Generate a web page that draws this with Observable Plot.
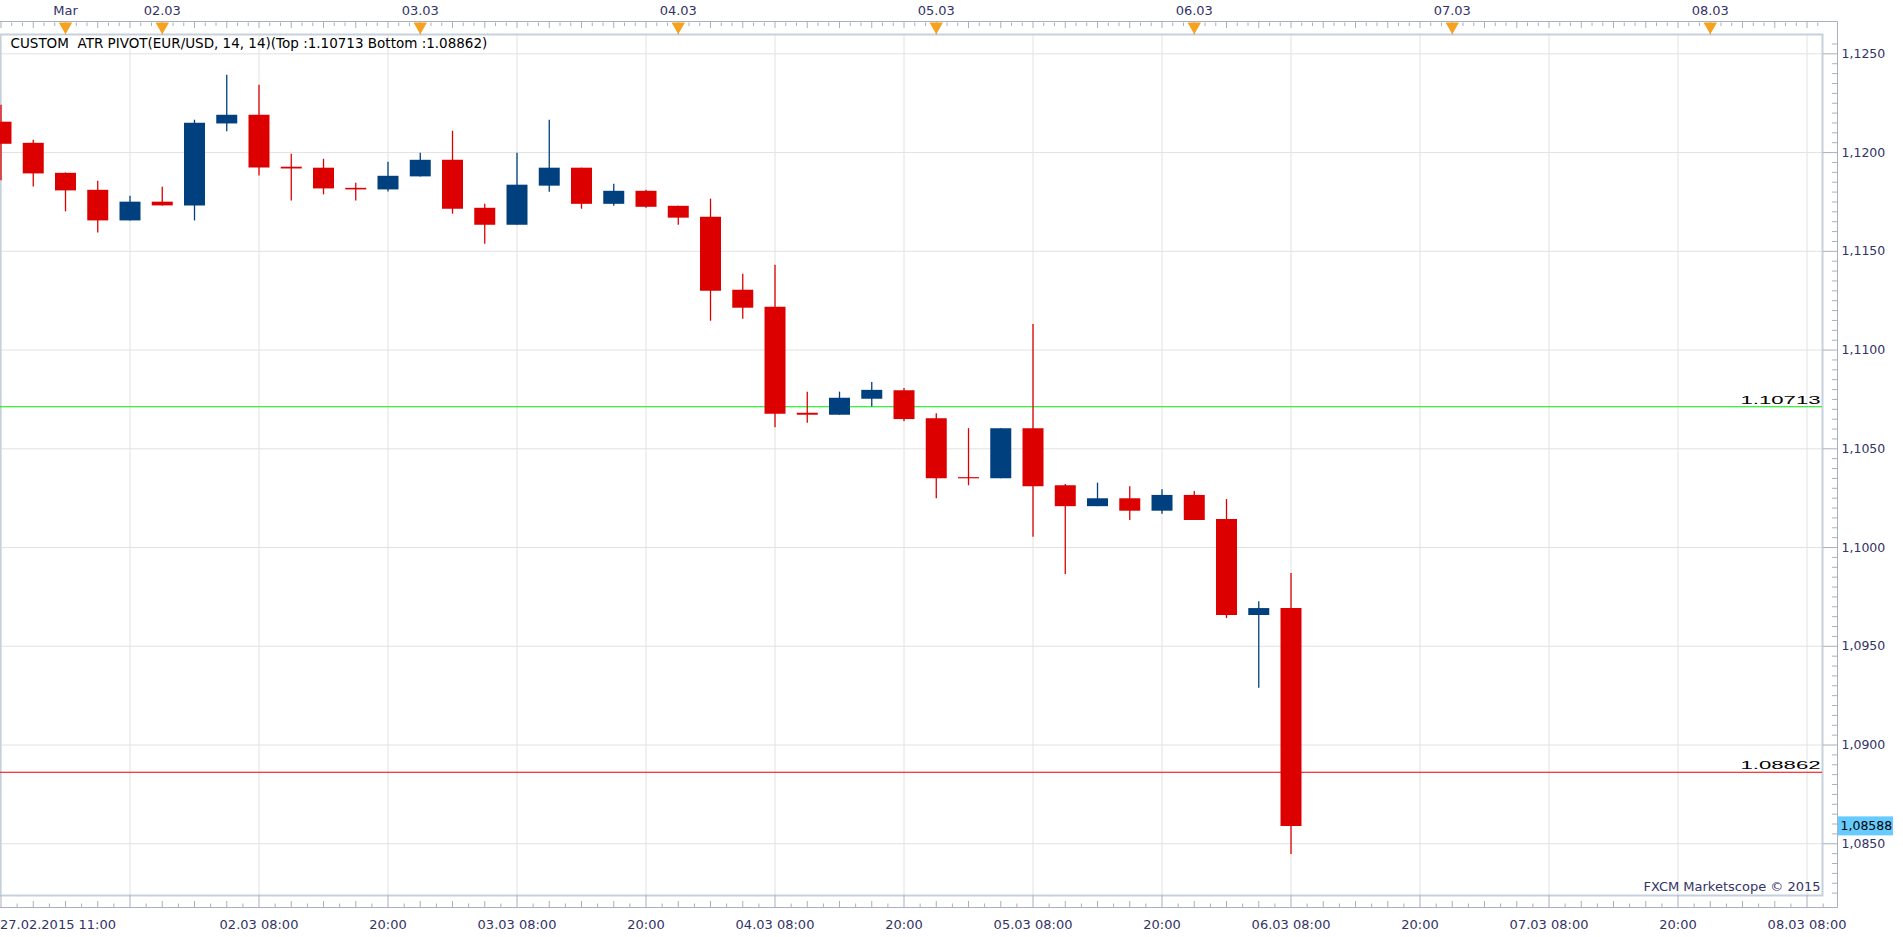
<!DOCTYPE html>
<html>
<head>
<meta charset="utf-8">
<script src="https://cdn.jsdelivr.net/npm/d3@7"></script>
<script src="https://cdn.jsdelivr.net/npm/@observablehq/plot@0.6"></script>
<style>
  html, body { margin: 0; padding: 0; background: #ffffff; overflow: hidden; }
  #chart svg { display: block; }
</style>
</head>
<body>
<div id="chart"></div>
<script>
// ---- data (EUR/USD, 3-hour candles) ----
const opens  = [1.12154,1.12047,1.11895,1.11809,1.11654,1.11749,1.11730,1.12145,1.12189,1.11926,
                1.11921,1.11819,1.11811,1.11877,1.11961,1.11718,1.11632,1.11830,1.11921,1.11738,
                1.11804,1.11728,1.11673,1.11303,1.11217,1.10680,1.10670,1.10751,1.10794,1.10652,
                1.10354,1.10348,1.10602,1.10313,1.10207,1.10247,1.10184,1.10264,1.10142,1.09656,
                1.09691];
const highs  = [1.12240,1.12062,1.11897,1.11855,1.11779,1.11824,1.12164,1.12392,1.12341,1.11992,
                1.11966,1.11845,1.11951,1.11997,1.12108,1.11738,1.11997,1.12164,1.11921,1.11840,
                1.11809,1.11728,1.11764,1.11384,1.11430,1.10787,1.10787,1.10836,1.10805,1.10678,
                1.10602,1.10602,1.11129,1.10319,1.10326,1.10308,1.10293,1.10284,1.10243,1.09726,
                1.09868];
const lows   = [1.11857,1.11826,1.11700,1.11593,1.11654,1.11730,1.11654,1.12105,1.11882,1.11755,
                1.11786,1.11755,1.11801,1.11877,1.11688,1.11536,1.11632,1.11799,1.11713,1.11728,
                1.11718,1.11632,1.11146,1.11156,1.10606,1.10630,1.10670,1.10712,1.10637,1.10247,
                1.10313,1.10348,1.10052,1.09864,1.10207,1.10137,1.10168,1.10137,1.09640,1.09288,
                1.08445];
const closes = [1.12042,1.11892,1.11806,1.11654,1.11749,1.11730,1.12149,1.12189,1.11922,1.11917,
                1.11816,1.11811,1.11880,1.11961,1.11713,1.11632,1.11835,1.11921,1.11738,1.11804,
                1.11723,1.11668,1.11298,1.11212,1.10675,1.10670,1.10756,1.10796,1.10648,1.10348,
                1.10348,1.10602,1.10308,1.10207,1.10247,1.10184,1.10264,1.10137,1.09656,1.09691,
                1.08588];

const pivotTop = 1.10713;
const pivotBottom = 1.08862;
const pivotTopLabel = "1.10713";
const pivotBottomLabel = "1.08862";
const lastClose = 1.08588;
const lastCloseLabel = "1,08588";
const indicatorTitle = "CUSTOM  ATR PIVOT(EUR/USD, 14, 14)(Top :1.10713 Bottom :1.08862)";
const copyright = "FXCM Marketscope \u00A9 2015";

// x positions are candle slots (one slot = 3 hours, weekend gap removed)
const gridSlots = [0,4,8,12,16,20,24,28,32,36,40,44,48,52,56];
const firstLabelSlot = [0];
const firstLabel = ["27.02.2015 11:00"];
const bottomLabelSlots = [8,12,16,20,24,28,32,36,40,44,48,52,56];
const bottomLabels = ["02.03 08:00","20:00","03.03 08:00","20:00","04.03 08:00","20:00",
                      "05.03 08:00","20:00","06.03 08:00","20:00","07.03 08:00","20:00","08.03 08:00"];
const daySlots = [2,5,13,21,29,37,45,53];
const dayLabels = ["Mar","02.03","03.03","04.03","05.03","06.03","07.03","08.03"];

const priceTicks = [1.085,1.090,1.095,1.100,1.105,1.110,1.115,1.120,1.125];
const priceLabels = ["1,0850","1,0900","1,0950","1,1000","1,1050","1,1100","1,1150","1,1200","1,1250"];

// ---- layout / style ----
const W = 1903, H = 937;
const mTop = 34, mBottom = 42, mLeft = 0, mRight = 81;
const navy = "#333366";
const upColor = "#00407f", downColor = "#dd0000";
const gridColor = "#e2e2e2";
const stripColor = "#a8b1c0";

const candles = opens.map((o, i) => ({slot: i, open: o, high: highs[i], low: lows[i], close: closes[i]}));
const upCandles = candles.filter(d => d.close > d.open);
const downCandles = candles.filter(d => d.close <= d.open);

const minorPriceTicks = d3.range(10825, 11260, 5).filter(v => v % 50 !== 0).map(v => v / 10000);
const halfSlots = d3.range(0.5, 57, 1);
const wholeSlots = d3.range(0, 57).filter(s => s % 4 !== 0);
const hourSlots = d3.range(0, 56.5, 1/3).filter(s => Math.abs(s - Math.round(s)) > 0.01);
const topWholeSlots = d3.range(0, 57).filter(s => !daySlots.includes(s));
const blank = () => "";

const plot = Plot.plot({
  width: W, height: H,
  marginTop: mTop, marginBottom: mBottom, marginLeft: mLeft, marginRight: mRight,
  x: {type: "linear", domain: [-0.0155, 56.48], axis: null, label: null},
  y: {type: "linear", domain: [1.08238, 1.12598], axis: null, label: null},
  style: {fontFamily: "DejaVu Sans, Verdana, sans-serif", fontSize: "13px", color: navy, background: "#ffffff", overflow: "visible"},
  marks: [
    Plot.gridX(gridSlots, {stroke: gridColor, strokeOpacity: 1}),
    Plot.gridY(priceTicks, {stroke: gridColor, strokeOpacity: 1}),
    Plot.frame({stroke: "#c7d1de", strokeWidth: 2}),

    // pivot lines
    Plot.ruleY([pivotTop], {stroke: "#00ee00", strokeWidth: 1.2}),
    Plot.ruleY([pivotBottom], {stroke: "#ee0000", strokeWidth: 1.2}),

    // wicks
    Plot.ruleX(upCandles, {x: "slot", y1: "low", y2: "high", stroke: upColor, strokeWidth: 1.3}),
    Plot.ruleX(downCandles, {x: "slot", y1: "low", y2: "high", stroke: downColor, strokeWidth: 1.3}),
    // bodies
    Plot.ruleX(upCandles, {x: "slot", y1: "open", y2: "close", stroke: upColor, strokeWidth: 21}),
    Plot.ruleX(downCandles, {x: "slot", y1: "open", y2: "close", stroke: downColor, strokeWidth: 21}),

    // pivot value labels
    Plot.text([pivotTop], {y: d => d, text: [pivotTopLabel], frameAnchor: "right", dx: -2, dy: -3,
      textAnchor: "end", lineAnchor: "bottom", fill: "#000", fontSize: 11,
      fontFamily: "Liberation Sans, Arial, sans-serif", className: "pivot-label"}),
    Plot.text([pivotBottom], {y: d => d, text: [pivotBottomLabel], frameAnchor: "right", dx: -2, dy: -3,
      textAnchor: "end", lineAnchor: "bottom", fill: "#000", fontSize: 11,
      fontFamily: "Liberation Sans, Arial, sans-serif", className: "pivot-label"}),

    // right price axis
    Plot.axisY(priceTicks, {anchor: "right", label: null, tickSize: 15, tickPadding: 4, stroke: stripColor,
      tickFormat: d => priceLabels[priceTicks.indexOf(d)], fontSize: 12.5, fill: navy}),
    Plot.axisY(minorPriceTicks, {anchor: "right", label: null, tickSize: 6, dx: 9, stroke: stripColor, tickFormat: blank}),

    // last price
    Plot.text([lastClose], {y: d => d, text: [lastCloseLabel], frameAnchor: "right", dx: 18,
      textAnchor: "start", lineAnchor: "middle", fill: "#000", fontSize: 12.5, className: "last-price"}),

    // bottom time strip ticks
    Plot.axisX(halfSlots, {anchor: "bottom", label: null, tickSize: 3.5, dy: 8.5, stroke: stripColor, tickFormat: blank}),
    Plot.axisX(wholeSlots, {anchor: "bottom", label: null, tickSize: 6, dy: 6, stroke: stripColor, tickFormat: blank}),
    Plot.axisX(gridSlots, {anchor: "bottom", label: null, tickSize: 12, dy: 0, stroke: stripColor, tickFormat: blank}),
    Plot.text(bottomLabelSlots, {x: d => d, text: (d, i) => bottomLabels[i], frameAnchor: "bottom", dy: 29,
      lineAnchor: "middle", fill: navy, fontSize: 13}),
    Plot.text(firstLabelSlot, {x: d => d, text: (d, i) => firstLabel[i], frameAnchor: "bottom", dy: 29, dx: -1,
      textAnchor: "start", lineAnchor: "middle", fill: navy, fontSize: 13}),

    // top date strip
    Plot.axisX(hourSlots, {anchor: "top", label: null, tickSize: 3.5, dy: -9, stroke: stripColor, tickFormat: blank}),
    Plot.axisX(topWholeSlots, {anchor: "top", label: null, tickSize: 6, dy: -7, stroke: stripColor, tickFormat: blank}),
    Plot.axisX(daySlots, {anchor: "top", label: null, tickSize: 13, dy: 0, stroke: stripColor, tickFormat: blank}),
    Plot.dot(daySlots, {x: d => d, frameAnchor: "top", dy: -8, symbol: "triangle", rotate: 180, r: 5,
      fill: "#f6a21e", stroke: "none"}),
    Plot.text(daySlots, {x: d => d, text: (d, i) => dayLabels[i], frameAnchor: "top", dy: -23.5,
      lineAnchor: "middle", fill: navy, fontSize: 13}),

    // texts inside plot
    Plot.text([indicatorTitle], {text: d => d, frameAnchor: "top-left", dx: 10, dy: 9.5,
      textAnchor: "start", lineAnchor: "middle", fill: "#000", fontSize: 13.5}),
    Plot.text([copyright], {text: d => d, frameAnchor: "bottom-right", dx: -2, dy: -8.5,
      textAnchor: "end", lineAnchor: "middle", fill: navy, fontSize: 13})
  ]
});

document.getElementById("chart").appendChild(plot);

// ---- chrome: strip border lines and price box ----
const svg = d3.select(plot);
const axisX = W - mRight + 15.5;
const topStripY = 21.5;
const bottomStripY = H - mBottom + 12.5;
const chrome = svg.insert("g", ":first-child").attr("stroke", stripColor).attr("stroke-width", 1);
chrome.append("line").attr("x1", 0).attr("x2", axisX).attr("y1", topStripY).attr("y2", topStripY);
chrome.append("line").attr("x1", 0).attr("x2", axisX).attr("y1", bottomStripY).attr("y2", bottomStripY);
chrome.append("line").attr("x1", axisX).attr("x2", axisX).attr("y1", topStripY).attr("y2", bottomStripY);

svg.selectAll(".pivot-label text").attr("textLength", 80).attr("lengthAdjust", "spacingAndGlyphs");

const yPrice = plot.scale("y").apply(lastClose);
const lastGroup = plot.querySelector(".last-price");
const box = document.createElementNS("http://www.w3.org/2000/svg", "rect");
box.setAttribute("x", axisX + 0.5);
box.setAttribute("y", yPrice - 9.5);
box.setAttribute("width", 55);
box.setAttribute("height", 19);
box.setAttribute("fill", "#66ccff");
lastGroup.parentNode.insertBefore(box, lastGroup);
</script>
</body>
</html>
